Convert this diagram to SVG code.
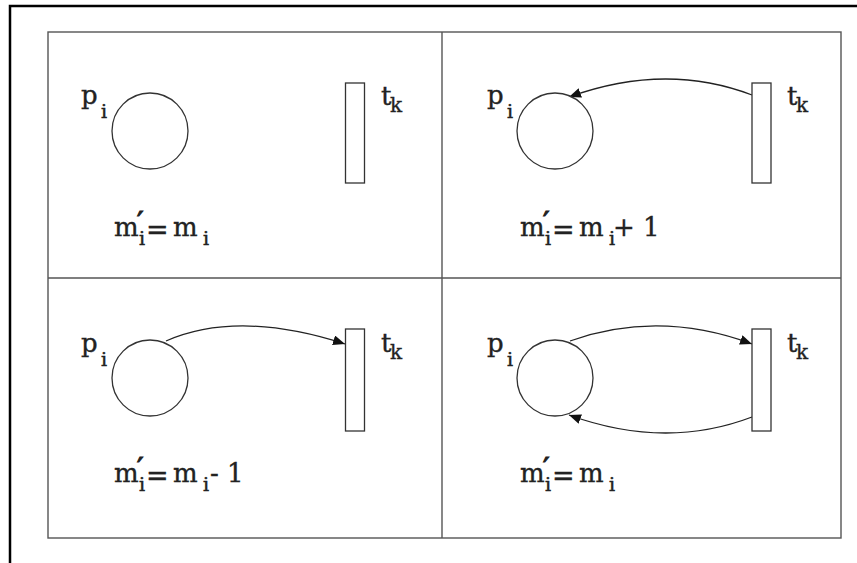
<svg xmlns="http://www.w3.org/2000/svg" width="857" height="563" viewBox="0 0 857 563">
<style>
.frame{fill:none;stroke:#000;stroke-width:2.5}
.grid{fill:none;stroke:#555;stroke-width:1.4}
.place{fill:#fff;stroke:#333;stroke-width:1.3}
.trans{fill:#fff;stroke:#333;stroke-width:1.3}
.arc{fill:none;stroke:#222;stroke-width:1.3}
text{font-family:"DejaVu Serif","Liberation Serif",serif;fill:#222;stroke:#222;stroke-width:0.35}
.big{font-size:26px}
.sub{font-size:19px;stroke-width:0.5}
.subk{font-size:20px}
.pr{font-size:28px;stroke-width:1.2}
.eq{font-size:27px}
</style>
<defs>
<marker id="ah" markerUnits="userSpaceOnUse" markerWidth="14" markerHeight="10" refX="12" refY="5" orient="auto">
<path d="M0,0 L12,5 L0,10 Z" fill="#111"/>
</marker>
</defs>
<rect width="857" height="563" fill="#fff"/>
<path class="frame" d="M10,563 V6 H857"/>
<g id="table">
<rect class="grid" x="48" y="32" width="793" height="506"/>
<line class="grid" x1="442" y1="32" x2="442" y2="538"/>
<line class="grid" x1="48" y1="278" x2="841" y2="278"/>
</g>

<g id="connectors">
<path class="arc" d="M752,95 Q665.5,62 569,97" marker-end="url(#ah)"/>
<path class="arc" d="M166,341 Q238.5,309.5 345,344" marker-end="url(#ah)"/>
<path class="arc" d="M570,341 Q659,309.5 752,344" marker-end="url(#ah)"/>
<path class="arc" d="M752,417 Q665.5,450 569,415" marker-end="url(#ah)"/>
</g>

<!-- top-left -->
<g id="p1">
<circle class="place" cx="150" cy="131" r="38"/>
<text class="big" x="81" y="104">p</text><text class="sub" x="101" y="118">i</text>
</g>
<g id="t1">
<rect class="trans" x="345.5" y="83" width="19" height="100"/>
<text class="big" x="381" y="105">t</text><text class="subk" x="390" y="112">k</text>
</g>
<g id="eq1">
<text class="big" x="114" y="236">m</text>
<text class="pr" x="137" y="232">′</text>
<text class="sub" x="139" y="245">i</text>
<text class="eq" x="146" y="239">=</text>
<text class="big" x="173" y="236">m</text>
<text class="sub" x="203" y="245">i</text>
</g>

<!-- top-right -->
<g id="p2">
<circle class="place" cx="555" cy="131" r="38"/>
<text class="big" x="487" y="104">p</text><text class="sub" x="507" y="118">i</text>
</g>
<g id="t2">
<rect class="trans" x="752" y="83" width="19" height="100"/>
<text class="big" x="787" y="105">t</text><text class="subk" x="796" y="112">k</text>
</g>
<g id="eq2">
<text class="big" x="520" y="236">m</text>
<text class="pr" x="543" y="232">′</text>
<text class="sub" x="545" y="245">i</text>
<text class="eq" x="552" y="239">=</text>
<text class="big" x="579" y="236">m</text>
<text class="sub" x="609" y="245">i</text>
<text class="big" x="613" y="236">+ 1</text>
</g>

<!-- bottom-left -->
<g id="p3">
<circle class="place" cx="150" cy="378" r="38"/>
<text class="big" x="81" y="352">p</text><text class="sub" x="101" y="366">i</text>
</g>
<g id="t3">
<rect class="trans" x="345.5" y="329" width="19" height="102"/>
<text class="big" x="381" y="352">t</text><text class="subk" x="390" y="359">k</text>
</g>
<g id="eq3">
<text class="big" x="114" y="482">m</text>
<text class="pr" x="137" y="478">′</text>
<text class="sub" x="139" y="491">i</text>
<text class="eq" x="146" y="485">=</text>
<text class="big" x="173" y="482">m</text>
<text class="sub" x="203" y="491">i</text>
<text class="big" x="210" y="482">- 1</text>
</g>

<!-- bottom-right -->
<g id="p4">
<circle class="place" cx="555" cy="378" r="38"/>
<text class="big" x="487" y="352">p</text><text class="sub" x="507" y="366">i</text>
</g>
<g id="t4">
<rect class="trans" x="752" y="329" width="19" height="102"/>
<text class="big" x="787" y="352">t</text><text class="subk" x="796" y="359">k</text>
</g>
<g id="eq4">
<text class="big" x="520" y="482">m</text>
<text class="pr" x="543" y="478">′</text>
<text class="sub" x="545" y="491">i</text>
<text class="eq" x="552" y="485">=</text>
<text class="big" x="579" y="482">m</text>
<text class="sub" x="609" y="491">i</text>
</g>
</svg>
